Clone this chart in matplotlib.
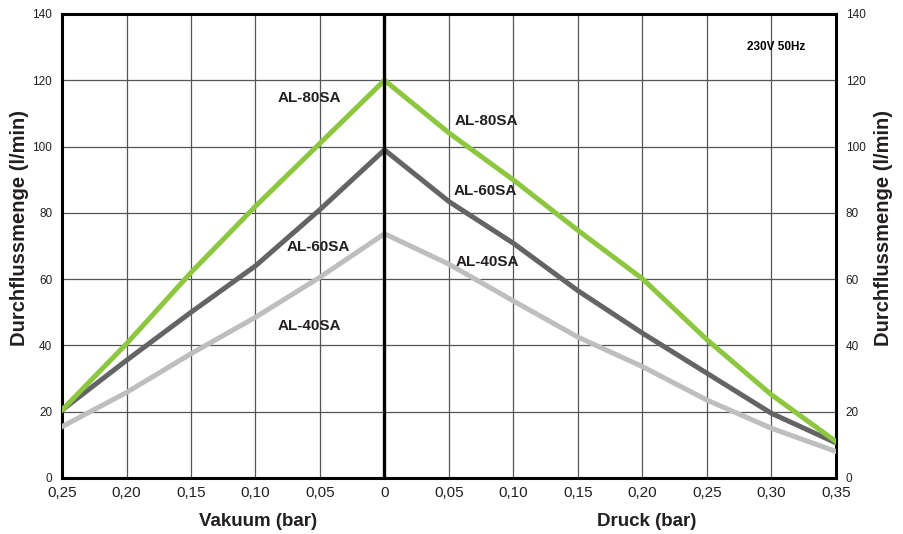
import numpy as np
import matplotlib
matplotlib.use('Agg')
import matplotlib.pyplot as plt

plt.rcParams['font.family'] = ['Liberation Sans', 'DejaVu Sans']

# Pressure axis: vacuum side as negative values, pressure side positive (bar)
x_vals = [-0.25, -0.20, -0.15, -0.10, -0.05, 0.0, 0.05, 0.10, 0.15, 0.20, 0.25, 0.30, 0.35]

# Flow rates (l/min)
al80 = [20.5, 40.5, 62.0, 82.0, 101.0, 120.0, 104.1, 89.9, 74.7, 60.1, 41.7, 25.1, 11.0]
al60 = [20.5, 35.5, 50.0, 64.0, 81.0, 99.0, 83.4, 70.8, 56.5, 43.7, 31.6, 19.5, 10.6]
al40 = [15.5, 25.8, 37.5, 48.5, 60.6, 73.7, 64.5, 53.4, 42.5, 33.6, 23.5, 15.0, 8.0]

x_ticks = [-0.25, -0.20, -0.15, -0.10, -0.05, 0.0, 0.05, 0.10, 0.15, 0.20, 0.25, 0.30, 0.35]
x_tick_labels = ['0,25', '0,20', '0,15', '0,10', '0,05', '0',
                 '0,05', '0,10', '0,15', '0,20', '0,25', '0,30', '0,35']
y_ticks = [0, 20, 40, 60, 80, 100, 120, 140]

color_80 = '#8dc63f'
color_60 = '#636466'
color_40 = '#bcbec0'

fig = plt.figure(figsize=(9.04, 5.34), dpi=100)
ax = fig.add_axes([62 / 904, 1 - 478 / 534, 774 / 904, 464 / 534])

ax.set_xlim(-0.25, 0.35)
ax.set_ylim(0, 140)

# Grid
ax.set_xticks(x_ticks)
ax.set_xticklabels(x_tick_labels, fontsize=11)
ax.set_yticks(y_ticks)
ax.set_yticklabels([str(v) for v in y_ticks], fontsize=8.5)
ax.grid(True, color='#555555', linewidth=0.9)
ax.set_axisbelow(True)
ax.tick_params(axis='both', length=0, colors='#231f20')
ax.tick_params(axis='x', pad=6)
ax.tick_params(axis='y', pad=7, labelright=True, labelleft=True)

for spine in ax.spines.values():
    spine.set_linewidth(2.2)
    spine.set_color('black')

# Thick centre line at 0 bar
ax.axvline(0, color='black', linewidth=2.4, zorder=4)

# Curves
ax.plot(x_vals, al40, color=color_40, linewidth=3.6, solid_joinstyle='round', zorder=3)
ax.plot(x_vals, al60, color=color_60, linewidth=3.6, solid_joinstyle='round', zorder=3)
ax.plot(x_vals, al80, color=color_80, linewidth=3.6, solid_joinstyle='round', zorder=3)

# Curve labels
lbl = dict(fontsize=11, fontweight='bold', color='#231f20', ha='center', va='center', zorder=5)
ax.text(-0.0585, 114.6, 'AL-80SA', **lbl)
ax.text(0.0792, 107.7, 'AL-80SA', **lbl)
ax.text(-0.0516, 69.8, 'AL-60SA', **lbl)
ax.text(0.0783, 86.7, 'AL-60SA', **lbl)
ax.text(-0.0585, 46.0, 'AL-40SA', **lbl)
ax.text(0.0798, 65.3, 'AL-40SA', **lbl)

ax.text(0.326, 130.1, '230V 50Hz', fontsize=8.5, fontweight='bold', color='black',
        ha='right', va='center')

# Axis titles
fig.text(258 / 904, 1 - 522 / 534, 'Vakuum (bar)', fontsize=13.5, fontweight='bold',
         color='#231f20', ha='center', va='center')
fig.text(647 / 904, 1 - 522 / 534, 'Druck (bar)', fontsize=13.5, fontweight='bold',
         color='#231f20', ha='center', va='center')
fig.text(20 / 904, 1 - 228.5 / 534, 'Durchflussmenge (l/min)', fontsize=14.5, fontweight='bold',
         color='#231f20', ha='center', va='center', rotation=90)
fig.text(884 / 904, 1 - 228.5 / 534, 'Durchflussmenge (l/min)', fontsize=14.5, fontweight='bold',
         color='#231f20', ha='center', va='center', rotation=90)

fig.savefig('out.png', dpi=100)
